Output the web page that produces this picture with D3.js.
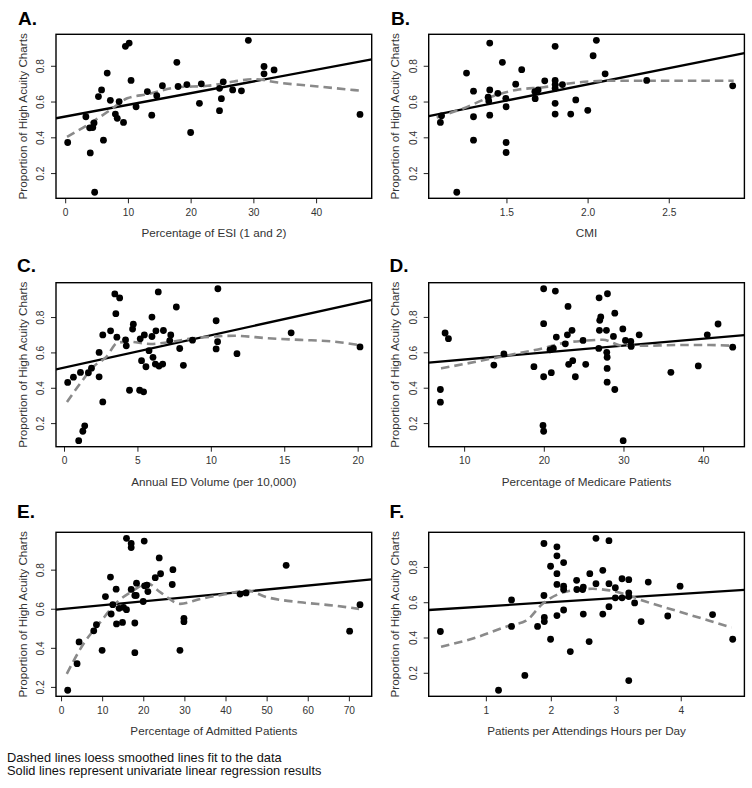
<!DOCTYPE html>
<html>
<head>
<meta charset="utf-8">
<script src="https://cdn.jsdelivr.net/npm/d3@7"></script>
<style>
  html, body { margin: 0; padding: 0; background: #fff; }
  svg { display: block; }
  text { font-family: "Liberation Sans", Arial, Helvetica, sans-serif; }
</style>
</head>
<body>
<svg id="chart" width="752" height="788"></svg>
<script>
// ---------------- DATA ----------------
const yTickValues = [0.2, 0.4, 0.6, 0.8];
const yTitle = "Proportion of High Acuity Charts";

// A. Percentage of ESI (1 and 2)
const aX = [0.4,3.3,3.9,4.4,4.6,4.0,4.7,5.3,5.8,6.7,6.1,7.2,8.0,8.3,8.6,9.3,9.6,10.2,10.5,11.3,13.1,13.8,14.6,15.5,17.8,18.0,19.4,20.0,21.4,21.7,24.6,24.6,24.9,25.2,26.7,28.1,29.2,31.7,31.7,33.3,47.0];
const aY = [0.371,0.515,0.453,0.455,0.48,0.313,0.093,0.628,0.665,0.759,0.384,0.607,0.53,0.506,0.6,0.483,0.909,0.927,0.718,0.571,0.656,0.524,0.633,0.689,0.819,0.684,0.695,0.427,0.59,0.699,0.549,0.674,0.616,0.71,0.665,0.66,0.942,0.796,0.755,0.777,0.528];
const aTicks = [0, 10, 20, 30, 40];
const aFit = [0.516, 0.00654];            // intercept, slope
const aLoessX = [0.3,3.5,7.2,9.9,13.1,17.9,22.7,26.9,30.1,33.9,40.3,47.0];
const aLoessY = [0.403,0.468,0.553,0.618,0.641,0.68,0.688,0.712,0.725,0.706,0.684,0.661];

// B. CMI
const bX = [1.1,1.093,1.194,1.254,1.297,1.297,1.297,1.387,1.391,1.397,1.397,1.397,1.447,1.475,1.496,1.498,1.498,1.498,1.557,1.594,1.675,1.677,1.695,1.736,1.8,1.8,1.8,1.8,1.8,1.8,1.845,1.896,1.927,2.001,2.034,2.054,2.108,2.364,2.894];
const bY = [0.52,0.483,0.093,0.759,0.658,0.515,0.384,0.624,0.603,0.927,0.665,0.524,0.646,0.819,0.618,0.571,0.371,0.315,0.697,0.778,0.656,0.616,0.665,0.716,0.909,0.718,0.695,0.674,0.59,0.53,0.695,0.53,0.609,0.551,0.856,0.942,0.755,0.718,0.688];
const bTicks = [1.5, 2.0, 2.5];
const bFit = [0.334, 0.181];
const bLoessX = [1.07,1.23,1.4,1.56,1.73,1.93,2.14,2.34,2.9];
const bLoessY = [0.511,0.56,0.625,0.665,0.68,0.706,0.716,0.716,0.716];

// C. Annual ED Volume (per 10,000)
const cX = [0.25,0.64,1.12,1.0,1.28,1.41,1.66,1.87,2.39,2.39,2.64,2.64,3.17,3.46,3.53,3.6,3.79,4.19,4.24,4.46,4.72,4.67,5.15,5.19,5.28,5.42,5.47,5.58,5.79,5.99,5.99,6.06,6.22,6.26,6.42,6.47,6.72,6.77,7.2,7.27,7.65,7.88,8.13,8.75,10.36,10.36,10.46,10.48,11.78,15.47,20.16];
const cY = [0.43,0.46,0.487,0.101,0.154,0.185,0.485,0.511,0.6,0.462,0.699,0.32,0.722,0.931,0.819,0.686,0.908,0.671,0.637,0.386,0.76,0.732,0.386,0.677,0.553,0.377,0.699,0.519,0.61,0.8,0.69,0.572,0.534,0.722,0.942,0.523,0.534,0.724,0.667,0.699,0.857,0.622,0.527,0.669,0.779,0.62,0.661,0.96,0.593,0.711,0.631];
const cTicks = [0, 5, 10, 15, 20];
const cFit = [0.514, 0.0183];
const cLoessX = [0.2,1.1,2.0,2.9,3.6,4.3,5.9,7.0,8.4,10.2,11.6,13.9,16.1,18.4,20.1];
const cLoessY = [0.32,0.424,0.519,0.576,0.652,0.661,0.648,0.656,0.675,0.69,0.694,0.68,0.671,0.661,0.642];

// D. Percentage of Medicare Patients
const dX = [7.02,7.02,7.61,8.03,13.73,14.99,18.76,19.98,19.98,19.98,19.9,19.98,20.78,20.94,21.2,21.45,21.57,22.7,22.96,23.04,23.12,23.54,23.63,23.96,24.93,25.26,26.94,26.98,27.02,27.15,26.9,27.86,27.99,27.9,27.95,27.95,27.95,28.74,28.91,28.91,29.92,29.96,30.25,30.92,30.96,31.97,35.95,39.39,40.52,41.87,43.71];
const dY = [0.39,0.318,0.709,0.677,0.528,0.591,0.519,0.959,0.762,0.462,0.187,0.154,0.614,0.485,0.622,0.946,0.686,0.648,0.699,0.859,0.532,0.724,0.553,0.462,0.667,0.532,0.908,0.724,0.781,0.8,0.622,0.724,0.931,0.6,0.572,0.509,0.431,0.69,0.821,0.39,0.732,0.101,0.667,0.661,0.633,0.699,0.487,0.523,0.699,0.76,0.629];
const dTicks = [10, 20, 30, 40];
const dFit = [0.5205, 0.0039];
const dLoessX = [7.1,11.5,15.7,19.9,22.4,24.9,27.4,29.9,32.4,36.6,40.8,43.75];
const dLoessY = [0.509,0.547,0.585,0.623,0.652,0.665,0.671,0.637,0.637,0.641,0.641,0.637];

// E. Percentage of Admitted Patients
const eX = [1.62,3.9,4.39,7.96,8.61,9.99,10.8,12.02,12.19,12.59,13.4,13.49,14.13,14.95,15.19,15.92,15.92,17.06,17.06,17.06,17.95,17.95,17.95,18.36,18.28,19.98,20.23,20.31,20.88,21.12,22.91,23.88,24.21,27.05,27.21,28.92,29.89,29.89,43.54,45.0,54.75,70.19,72.71];
const eY = [0.183,0.319,0.43,0.487,0.518,0.387,0.662,0.762,0.573,0.621,0.7,0.522,0.602,0.53,0.607,0.96,0.595,0.934,0.913,0.699,0.668,0.527,0.375,0.731,0.668,0.637,0.946,0.717,0.721,0.688,0.759,0.86,0.779,0.724,0.8,0.387,0.551,0.534,0.675,0.681,0.822,0.485,0.621];
const eTicks = [0, 10, 20, 30, 40, 50, 60, 70];
const eFit = [0.5975, 0.002015];
const eLoessX = [1.4,5.4,9.5,13.6,17.6,20.9,24.1,29.0,33.9,40.4,45.2,50.1,58.2,66.4,72.5];
const eLoessY = [0.267,0.418,0.53,0.633,0.693,0.731,0.685,0.625,0.65,0.676,0.693,0.659,0.633,0.616,0.599];

// F. Patients per Attendings Hours per Day
const fX = [0.30,1.195,1.395,1.395,1.6,1.796,1.894,1.894,1.9,1.9,1.996,1.996,2.094,2.094,2.094,2.094,2.094,2.197,2.197,2.197,2.197,2.3,2.397,2.4,2.49,2.5,2.5,2.59,2.6,2.695,2.695,2.8,2.8,2.895,2.895,2.895,2.993,2.993,3.096,3.096,3.2,3.2,3.2,3.2,3.29,3.39,3.5,3.8,3.99,4.49,4.8];
const fY = [0.434,0.101,0.613,0.463,0.185,0.463,0.933,0.638,0.514,0.49,0.804,0.39,0.914,0.863,0.762,0.701,0.524,0.825,0.691,0.672,0.556,0.32,0.724,0.672,0.672,0.686,0.533,0.377,0.762,0.962,0.705,0.781,0.533,0.949,0.705,0.575,0.682,0.625,0.625,0.733,0.728,0.653,0.632,0.156,0.596,0.49,0.714,0.522,0.691,0.53,0.39];
const fTicks = [1, 2, 3, 4];
const fFit = [0.553, 0.02344];
const fLoessX = [0.31,0.85,1.36,1.62,1.87,2.13,2.39,2.64,2.9,3.16,3.41,3.93,4.44,4.78];
const fLoessY = [0.347,0.4,0.467,0.495,0.59,0.648,0.67,0.676,0.667,0.644,0.61,0.552,0.495,0.457];

const panelLabels = ["A.", "B.", "C.", "D.", "E.", "F."];
const xTitles = ["Percentage of ESI (1 and 2)", "CMI", "Annual ED Volume (per 10,000)",
                 "Percentage of Medicare Patients", "Percentage of Admitted Patients",
                 "Patients per Attendings Hours per Day"];
const captionLines = ["Dashed lines loess smoothed lines fit to the data",
                      "Solid lines represent univariate linear regression results"];

// ---------------- LAYOUT ----------------
const boxW = 315.7, boxH = 164;
const layout = [
  {left: 56,    top: 34.3,  lx: 18,  ly: 25},
  {left: 428.7, top: 34.3,  lx: 391, ly: 25},
  {left: 56,    top: 282.7, lx: 17,  ly: 272},
  {left: 428.7, top: 282.7, lx: 389.5, ly: 272},
  {left: 56,    top: 532.3, lx: 17,  ly: 518},
  {left: 428.7, top: 532.3, lx: 389.5, ly: 518}
];
const panels = [
  {x: aX, y: aY, ticks: aTicks, fit: aFit, lx: aLoessX, ly: aLoessY, fmt: d3.format("d")},
  {x: bX, y: bY, ticks: bTicks, fit: bFit, lx: bLoessX, ly: bLoessY, fmt: d3.format(".1f")},
  {x: cX, y: cY, ticks: cTicks, fit: cFit, lx: cLoessX, ly: cLoessY, fmt: d3.format("d")},
  {x: dX, y: dY, ticks: dTicks, fit: dFit, lx: dLoessX, ly: dLoessY, fmt: d3.format("d")},
  {x: eX, y: eY, ticks: eTicks, fit: eFit, lx: eLoessX, ly: eLoessY, fmt: d3.format("d")},
  {x: fX, y: fY, ticks: fTicks, fit: fFit, lx: fLoessX, ly: fLoessY, fmt: d3.format("d")}
];

function padded(vals) {
  const [lo, hi] = d3.extent(vals);
  const p = (hi - lo) * 0.04;
  return [lo - p, hi + p];
}

const svg = d3.select("#chart");
const defs = svg.append("defs");

panels.forEach((p, i) => {
  const L = layout[i];
  const g = svg.append("g").attr("transform", `translate(${L.left},${L.top})`);
  const x = d3.scaleLinear().domain(padded(p.x)).range([0, boxW]);
  const y = d3.scaleLinear().domain(padded(p.y)).range([boxH, 0]);

  defs.append("clipPath").attr("id", "clip" + i)
    .append("rect").attr("width", boxW).attr("height", boxH);

  // panel label
  svg.append("text").attr("x", L.lx).attr("y", L.ly)
    .attr("font-size", 19).attr("font-weight", "bold").attr("fill", "#000")
    .text(panelLabels[i]);

  // x axis
  const xa = g.append("g").attr("transform", `translate(0,${boxH})`)
    .call(d3.axisBottom(x).tickValues(p.ticks).tickFormat(p.fmt).tickSize(5).tickPadding(5));
  xa.select(".domain").remove();
  xa.selectAll("line").attr("stroke", "#222").attr("stroke-width", 1);
  xa.selectAll("text").attr("font-size", 10.2).attr("fill", "#333")
    .attr("font-family", "Liberation Sans, Arial, sans-serif");

  // y axis
  const ya = g.append("g")
    .call(d3.axisLeft(y).tickValues(yTickValues).tickFormat(d3.format(".1f")).tickSize(5));
  ya.select(".domain").remove();
  ya.selectAll("line").attr("stroke", "#222").attr("stroke-width", 1);
  ya.selectAll("text")
    .attr("font-size", 10.2).attr("fill", "#333")
    .attr("font-family", "Liberation Sans, Arial, sans-serif")
    .attr("x", null).attr("dy", null)
    .attr("text-anchor", "middle")
    .attr("transform", "translate(-12,0) rotate(-90)");

  // axis titles
  g.append("text").attr("x", boxW / 2).attr("y", boxH + 39)
    .attr("text-anchor", "middle").attr("font-size", 11.7).attr("fill", "#333")
    .text(xTitles[i]);
  g.append("text")
    .attr("transform", `translate(-29.5,${boxH / 2}) rotate(-90)`)
    .attr("text-anchor", "middle").attr("font-size", 11.7).attr("fill", "#333")
    .text(yTitle);

  const inner = g.append("g").attr("clip-path", `url(#clip${i})`);

  // regression line
  const xd = x.domain();
  inner.append("line")
    .attr("x1", x(xd[0])).attr("y1", y(p.fit[0] + p.fit[1] * xd[0]))
    .attr("x2", x(xd[1])).attr("y2", y(p.fit[0] + p.fit[1] * xd[1]))
    .attr("stroke", "#000").attr("stroke-width", 2.3);

  // loess line
  const pts = p.lx.map((v, k) => [v, p.ly[k]]);
  inner.append("path")
    .attr("d", d3.line().x(d => x(d[0])).y(d => y(d[1])).curve(d3.curveMonotoneX)(pts))
    .attr("fill", "none").attr("stroke", "#8a8a8a").attr("stroke-width", 2.6)
    .attr("stroke-dasharray", "8.5,5");

  // points
  inner.selectAll("circle").data(p.x.map((v, k) => [v, p.y[k]])).join("circle")
    .attr("cx", d => x(d[0])).attr("cy", d => y(d[1])).attr("r", 3.4).attr("fill", "#000");

  // box
  g.append("rect").attr("width", boxW).attr("height", boxH)
    .attr("fill", "none").attr("stroke", "#000").attr("stroke-width", 1.4);
});

// caption
svg.append("g").selectAll("text").data(captionLines).join("text")
  .attr("x", 7).attr("y", (d, k) => 761.5 + k * 13.5)
  .attr("font-size", 12.8).attr("fill", "#111")
  .text(d => d);
</script>
</body>
</html>
